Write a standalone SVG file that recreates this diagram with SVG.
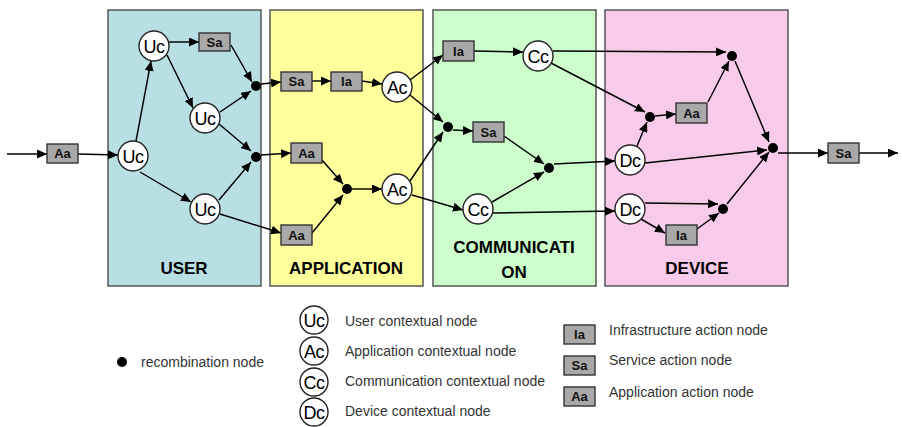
<svg xmlns="http://www.w3.org/2000/svg" width="902" height="427" viewBox="0 0 902 427">
<defs>
  <marker id="arr" markerWidth="10" markerHeight="9" refX="10" refY="4.5" orient="auto" markerUnits="userSpaceOnUse">
    <path d="M0,0 L10,4.5 L0,9 z" fill="#000"/>
  </marker>
  <style>
    .panel { stroke: #555; stroke-width: 1.5; }
    .ctx { fill: #fff; stroke: #222; stroke-width: 1.4; }
    .act { fill: #a8a8a8; stroke: #333; stroke-width: 1.4; }
    .rec { fill: #000; }
    .ctxt { font-family: "Liberation Sans", Arial, sans-serif; font-size: 18px; text-anchor: middle; fill: #000; letter-spacing: -0.5px; }
    .actt { font-family: "Liberation Sans", Arial, sans-serif; font-size: 13px; font-weight: bold; text-anchor: middle; fill: #111; }
    .ptitle { font-family: "Liberation Sans", Arial, sans-serif; font-size: 17px; font-weight: bold; text-anchor: middle; fill: #000; }
    .leg { font-family: "Liberation Sans", Arial, sans-serif; font-size: 14px; fill: #333; }
    .conn line { stroke: #000; stroke-width: 1.45; marker-end: url(#arr); }
  </style>
</defs>
<rect width="902" height="427" fill="#fff"/>

<!-- layer panels -->
<g id="panel-user">
  <rect class="panel" x="108" y="10" width="153" height="276" fill="#b8dfe3"/>
  <text class="ptitle" x="184" y="274">USER</text>
</g>
<g id="panel-application">
  <rect class="panel" x="270" y="10" width="153" height="276" fill="#ffff9c"/>
  <text class="ptitle" x="346" y="274">APPLICATION</text>
</g>
<g id="panel-communication">
  <rect class="panel" x="433" y="10" width="163" height="276" fill="#ccffcc"/>
  <text class="ptitle" x="514" y="253">COMMUNICATI</text>
  <text class="ptitle" x="514" y="278">ON</text>
</g>
<g id="panel-device">
  <rect class="panel" x="605" y="10" width="183" height="276" fill="#f9cbea"/>
  <text class="ptitle" x="697" y="274">DEVICE</text>
</g>

<!-- connectors -->
<g id="connectors" class="conn">
  <line x1="7" y1="154" x2="47" y2="154"/>
  <line x1="78" y1="154" x2="118" y2="155"/>
  <line x1="136" y1="141" x2="151" y2="61"/>
  <line x1="169" y1="42" x2="199" y2="42"/>
  <line x1="167" y1="55" x2="193" y2="108"/>
  <line x1="231" y1="45" x2="252" y2="82"/>
  <line x1="220" y1="112" x2="251" y2="91"/>
  <line x1="219" y1="124" x2="251" y2="151"/>
  <line x1="140" y1="172" x2="191" y2="202"/>
  <line x1="219" y1="200" x2="251" y2="162"/>
  <line x1="220" y1="214" x2="281" y2="233"/>
  <line x1="261" y1="84" x2="281" y2="82"/>
  <line x1="261" y1="155" x2="291" y2="153"/>

  <line x1="312" y1="81" x2="331" y2="81"/>
  <line x1="362" y1="81" x2="382" y2="84"/>
  <line x1="322" y1="160" x2="343" y2="184"/>
  <line x1="312" y1="233" x2="343" y2="195"/>
  <line x1="352" y1="189" x2="382" y2="189"/>
  <line x1="410" y1="80" x2="443" y2="55"/>
  <line x1="410" y1="95" x2="443" y2="122"/>
  <line x1="410" y1="181" x2="443" y2="132"/>
  <line x1="412" y1="195" x2="463" y2="210"/>

  <line x1="474" y1="51" x2="523" y2="52"/>
  <line x1="453" y1="130" x2="473" y2="131"/>
  <line x1="504" y1="136" x2="544" y2="164"/>
  <line x1="492" y1="202" x2="544" y2="172"/>
  <line x1="554" y1="164" x2="615" y2="161"/>
  <line x1="493" y1="213" x2="615" y2="211"/>
  <line x1="553" y1="51" x2="726" y2="52"/>
  <line x1="551" y1="63" x2="645" y2="112"/>

  <line x1="655" y1="116" x2="676" y2="114"/>
  <line x1="708" y1="102" x2="729" y2="61"/>
  <line x1="637" y1="146" x2="647" y2="122"/>
  <line x1="735" y1="61" x2="769" y2="142"/>
  <line x1="645" y1="163" x2="767" y2="150"/>
  <line x1="727" y1="204" x2="769" y2="152"/>
  <line x1="645" y1="203" x2="718" y2="204"/>
  <line x1="641" y1="219" x2="665" y2="233"/>
  <line x1="697" y1="229" x2="719" y2="213"/>
  <line x1="778" y1="153" x2="828" y2="153"/>
  <line x1="859" y1="153" x2="898" y2="153"/>
</g>

<!-- USER layer nodes -->
<g id="aa-in"><rect class="act" x="47" y="144" width="31" height="19"/><text class="actt" x="62.5" y="158">Aa</text></g>
<g id="uc-0"><circle class="ctx" cx="133" cy="156" r="15"/><text class="ctxt" x="133" y="162.5">Uc</text></g>
<g id="uc-1"><circle class="ctx" cx="154" cy="46" r="15"/><text class="ctxt" x="154" y="52.5">Uc</text></g>
<g id="uc-2"><circle class="ctx" cx="205" cy="118" r="15"/><text class="ctxt" x="205" y="124.5">Uc</text></g>
<g id="uc-3"><circle class="ctx" cx="205" cy="209" r="15"/><text class="ctxt" x="205" y="215.5">Uc</text></g>
<g id="sa-user"><rect class="act" x="199" y="33" width="31" height="18"/><text class="actt" x="214.5" y="47">Sa</text></g>
<g id="rec-u1"><circle class="rec" cx="256" cy="86" r="5"/></g>
<g id="rec-u2"><circle class="rec" cx="256" cy="157" r="5"/></g>

<!-- APPLICATION layer nodes -->
<g id="sa-app"><rect class="act" x="281" y="72" width="31" height="19"/><text class="actt" x="296.5" y="86">Sa</text></g>
<g id="ia-app"><rect class="act" x="331" y="72" width="31" height="19"/><text class="actt" x="346.5" y="86">Ia</text></g>
<g id="ac-1"><circle class="ctx" cx="397" cy="87" r="15"/><text class="ctxt" x="397" y="93.5">Ac</text></g>
<g id="aa-mid"><rect class="act" x="291" y="143" width="31" height="20"/><text class="actt" x="306.5" y="158">Aa</text></g>
<g id="rec-a"><circle class="rec" cx="347" cy="189" r="5"/></g>
<g id="ac-2"><circle class="ctx" cx="397" cy="189" r="15"/><text class="ctxt" x="397" y="195.5">Ac</text></g>
<g id="aa-low"><rect class="act" x="281" y="225" width="31" height="20"/><text class="actt" x="296.5" y="240">Aa</text></g>

<!-- COMMUNICATION layer nodes -->
<g id="ia-comm"><rect class="act" x="443" y="41" width="31" height="20"/><text class="actt" x="458.5" y="56">Ia</text></g>
<g id="cc-1"><circle class="ctx" cx="538" cy="56" r="15"/><text class="ctxt" x="538" y="62.5">Cc</text></g>
<g id="rec-c1"><circle class="rec" cx="448" cy="127" r="5"/></g>
<g id="sa-comm"><rect class="act" x="473" y="122" width="31" height="20"/><text class="actt" x="488.5" y="137">Sa</text></g>
<g id="rec-c2"><circle class="rec" cx="549" cy="168" r="5"/></g>
<g id="cc-2"><circle class="ctx" cx="478" cy="209" r="15"/><text class="ctxt" x="478" y="215.5">Cc</text></g>

<!-- DEVICE layer nodes -->
<g id="rec-d-top"><circle class="rec" cx="732" cy="56" r="5"/></g>
<g id="rec-d-mid"><circle class="rec" cx="650" cy="117" r="5"/></g>
<g id="aa-dev"><rect class="act" x="676" y="103" width="31" height="20"/><text class="actt" x="691.5" y="118">Aa</text></g>
<g id="dc-1"><circle class="ctx" cx="630" cy="160" r="15"/><text class="ctxt" x="630" y="166.5">Dc</text></g>
<g id="rec-d-out"><circle class="rec" cx="773" cy="148" r="5"/></g>
<g id="dc-2"><circle class="ctx" cx="630" cy="209" r="15"/><text class="ctxt" x="630" y="215.5">Dc</text></g>
<g id="rec-d-low"><circle class="rec" cx="723" cy="209" r="5"/></g>
<g id="ia-dev"><rect class="act" x="666" y="225" width="31" height="20"/><text class="actt" x="681.5" y="240">Ia</text></g>
<g id="sa-out"><rect class="act" x="828" y="143" width="31" height="20"/><text class="actt" x="843.5" y="158">Sa</text></g>

<!-- legend -->
<g id="legend">
  <circle class="rec" cx="122" cy="362" r="5"/>
  <text class="leg" x="141" y="367">recombination node</text>

  <circle class="ctx" cx="314" cy="320" r="14"/><text class="ctxt" x="314" y="326.5">Uc</text>
  <text class="leg" x="345" y="326">User contextual node</text>
  <circle class="ctx" cx="314" cy="351" r="14"/><text class="ctxt" x="314" y="357.5">Ac</text>
  <text class="leg" x="345" y="356">Application contextual node</text>
  <circle class="ctx" cx="314" cy="382" r="14"/><text class="ctxt" x="314" y="388.5">Cc</text>
  <text class="leg" x="345" y="386">Communication contextual node</text>
  <circle class="ctx" cx="314" cy="412" r="14"/><text class="ctxt" x="314" y="418.5">Dc</text>
  <text class="leg" x="345" y="416">Device contextual node</text>

  <rect class="act" x="564" y="325" width="31" height="19"/><text class="actt" x="579.5" y="339">Ia</text>
  <text class="leg" x="609" y="335">Infrastructure action node</text>
  <rect class="act" x="564" y="356" width="31" height="19"/><text class="actt" x="579.5" y="370">Sa</text>
  <text class="leg" x="609" y="365">Service action node</text>
  <rect class="act" x="564" y="387" width="31" height="19"/><text class="actt" x="579.5" y="401">Aa</text>
  <text class="leg" x="609" y="397">Application action node</text>
</g>
</svg>
